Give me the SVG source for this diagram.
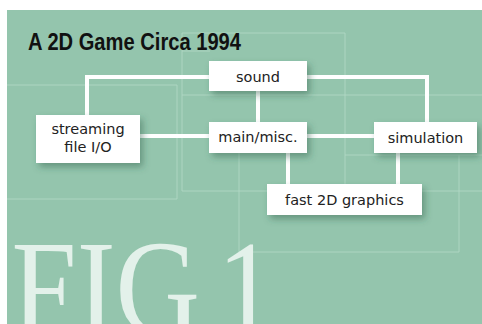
<svg xmlns="http://www.w3.org/2000/svg" width="482" height="324" viewBox="0 0 482 324">
<defs>
<filter id="sh" x="-20%" y="-30%" width="150%" height="180%">
<feDropShadow dx="3" dy="4" stdDeviation="3.5" flood-color="#2e5a47" flood-opacity="0.45"/>
</filter>
<style>
.bg{fill:#94c5ad}
.faint{fill:none;stroke:#b3d9c6;stroke-width:1;opacity:0.8}
.box{fill:#ffffff}
.lbl{font-family:"DejaVu Sans",sans-serif;font-size:14.5px;fill:#222;text-anchor:middle}
.con{stroke:#ffffff;stroke-width:4;fill:none}
.fig{font-family:"Liberation Serif","Times New Roman",serif;font-size:136px;fill:#e3f1ea;word-spacing:-14px}
.title{font-family:"Liberation Sans",Arial,sans-serif;font-weight:bold;font-size:23px;fill:#111}
</style>
</defs>
<rect x="0" y="0" width="482" height="324" fill="#ffffff"/>
<rect class="bg" x="7" y="10" width="475" height="314"/>
<g id="grid">
<path class="faint" d="M7 85H177V199H7"/>
<path class="faint" d="M182 191V33H345V191"/>
<path class="faint" d="M182 51H210"/>
<path class="faint" d="M182 95H482"/>
<path class="faint" d="M182 191H482"/>
<path class="faint" d="M239 150V252H459V155"/>
<path class="faint" d="M345 155H482"/>
</g>
<text class="fig" transform="translate(11.6 334) scale(0.86 1)">FIG 1</text>
<text class="title" x="28" y="50" textLength="213" lengthAdjust="spacingAndGlyphs">A 2D Game Circa 1994</text>
<g id="connectors">
<path class="con" d="M209 77H87V115"/>
<path class="con" d="M307 77H427V122"/>
<path class="con" d="M258 91V122"/>
<path class="con" d="M140 136H209"/>
<path class="con" d="M307 136H374"/>
<path class="con" d="M288 153V184"/>
<path class="con" d="M398 153V184"/>
</g>
<g id="sound">
<rect class="box" x="209" y="61" width="98" height="30" filter="url(#sh)"/>
<text class="lbl" x="258" y="82">sound</text>
</g>
<g id="streaming">
<rect class="box" x="36" y="115" width="104" height="48" filter="url(#sh)"/>
<text class="lbl" x="88" y="134">streaming</text>
<text class="lbl" x="88" y="152">file I/O</text>
</g>
<g id="main">
<rect class="box" x="209" y="122" width="98" height="31" filter="url(#sh)"/>
<text class="lbl" x="258" y="142">main/misc.</text>
</g>
<g id="simulation">
<rect class="box" x="374" y="122" width="103" height="31" filter="url(#sh)"/>
<text class="lbl" x="425.5" y="143">simulation</text>
</g>
<g id="graphics">
<rect class="box" x="267" y="184" width="155" height="31" filter="url(#sh)"/>
<text class="lbl" x="344.5" y="205">fast 2D graphics</text>
</g>
</svg>
